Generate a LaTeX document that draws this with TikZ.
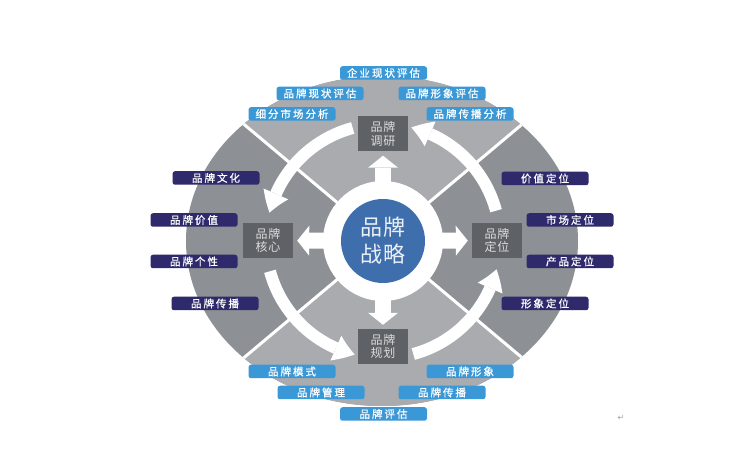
\documentclass[tikz,border=0pt]{standalone}
\usepackage{fontspec}
\setmainfont{Noto Sans CJK SC}
\newfontfamily\cjktag[LetterSpace=19,FakeBold=0.8]{Noto Sans CJK SC}
\newfontfamily\cjkbox[LetterSpace=6]{Noto Sans CJK SC}
\newfontfamily\cjkcore[LetterSpace=8]{Noto Sans CJK SC}
\newfontfamily\symfont{DejaVu Sans}
\usetikzlibrary{arrows.meta,calc,bending}

\definecolor{lightsec}{HTML}{A9ABAF}
\definecolor{darksec}{HTML}{8D9095}
\definecolor{coreblue}{HTML}{3F6EAC}
\definecolor{coretext}{HTML}{EAF0F7}
\definecolor{boxgray}{HTML}{5E6266}
\definecolor{boxtext}{HTML}{DCDCDC}
\definecolor{skyblue}{HTML}{3B98D6}
\definecolor{navy}{HTML}{2E2A6C}

\begin{document}
\begin{tikzpicture}[x=1pt,y=-1pt,
  stagebox/.style={fill=boxgray, text=boxtext, minimum width=50pt, minimum height=35pt,
    inner sep=0pt, align=center, font=\cjkbox\fontsize{12}{13.5}\selectfont},
  bluetag/.style={fill=skyblue, text=white, rounded corners=2.5pt, minimum width=87pt,
    minimum height=13.5pt, inner sep=0pt, font=\cjktag\fontsize{10.5}{12}\selectfont},
  navytag/.style={bluetag, fill=navy},
  ringarrow/.style={white, line width=12pt,
    -{Triangle[width=27pt,length=20pt,line width=0pt,bend]}},
  spoke/.style={white, line width=16pt,
    -{Triangle[width=30pt,length=12pt,line width=0pt]}, shorten >=4pt, shorten <=-3pt},
  divider/.style={white, line width=3pt}
]
\useasboundingbox[fill=white] (0,0) rectangle (756,473);

\coordinate (c) at (383,241);

% outer ellipse with four sectors
\fill[darksec] (382,241) ellipse [x radius=196, y radius=165];
\begin{scope}
  \clip (382,241) ellipse [x radius=196, y radius=165];
  \fill[lightsec] (c) -- +(-40:400) -- +(-140:400) -- cycle;
  \fill[lightsec] (c) -- +(40:400) -- +(140:400) -- cycle;
  \draw[divider] (c) -- +(40:400);
  \draw[divider] (c) -- +(140:400);
  \draw[divider] (c) -- +(-40:400);
  \draw[divider] (c) -- +(-140:400);
\end{scope}

% circular arrows (counterclockwise on screen)
\draw[ringarrow] ($(c)+(-105:117)$) arc[start angle=-105, end angle=-166, radius=117];
\draw[ringarrow] ($(c)+(-195:117)$) arc[start angle=-195, end angle=-256, radius=117];
\draw[ringarrow] ($(c)+(-285:117)$) arc[start angle=-285, end angle=-346, radius=117];
\draw[ringarrow] ($(c)+(-15:117)$) arc[start angle=-15, end angle=-76, radius=117];

% centre
\node[circle, fill=white, minimum size=120pt, inner sep=0pt] (ring) at (c) {};
\node[circle, fill=coreblue, minimum size=84pt, inner sep=0pt, text=coretext,
  align=center, font=\cjkcore\fontsize{22}{27}\selectfont] (core) at (c) {品牌\\战略};

% stage boxes
\node[stagebox] (up)    at (383,134)   {品牌\\调研};
\node[stagebox] (left)  at (268,240.5) {品牌\\核心};
\node[stagebox] (right) at (497,240.5) {品牌\\定位};
\node[stagebox] (down)  at (383,346.5) {品牌\\规划};

% spokes
\draw[spoke] (ring) -- (up);
\draw[spoke] (ring) -- (left);
\draw[spoke] (ring) -- (right);
\draw[spoke] (ring) -- (down);

% top tags
\node[bluetag] (t1) at (383.5,73)  {企业现状评估};
\node[bluetag] (t2) at (320,93.5)  {品牌现状评估};
\node[bluetag] (t3) at (442,93.5)  {品牌形象评估};
\node[bluetag] (t4) at (292,114)   {细分市场分析};
\node[bluetag] (t5) at (470,114)   {品牌传播分析};

% bottom tags
\node[bluetag] (b1) at (292,371.5) {品牌模式};
\node[bluetag] (b2) at (470,371.5) {品牌形象};
\node[bluetag] (b3) at (321,392.5) {品牌管理};
\node[bluetag] (b4) at (442,392.5) {品牌传播};
\node[bluetag] (b5) at (383.5,414) {品牌评估};

% left tags
\node[navytag] (l1) at (216,178)   {品牌文化};
\node[navytag] (l2) at (194,220)   {品牌价值};
\node[navytag] (l3) at (194,261.5) {品牌个性};
\node[navytag] (l4) at (215,303.5) {品牌传播};

% right tags
\node[navytag] (r1) at (545,178.5) {价值定位};
\node[navytag] (r2) at (570,220)   {市场定位};
\node[navytag] (r3) at (570,261.5) {产品定位};
\node[navytag] (r4) at (545,303.5) {形象定位};

\node[text=gray!75, font=\symfont\fontsize{8}{8}\selectfont, inner sep=0pt] (ret) at (621,418) {↵};
\end{tikzpicture}
\end{document}
